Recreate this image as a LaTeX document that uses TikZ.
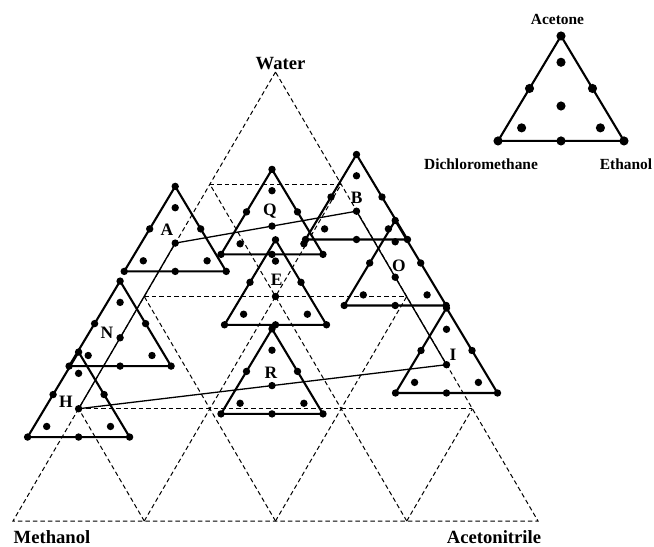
\documentclass[tikz,border=0pt]{standalone}
\usepackage{fontspec}
\setmainfont{Liberation Serif}
\usetikzlibrary{calc}
\tikzset{
  grid/.style={draw=black, line width=1bp, dash pattern=on 4.5bp off 3bp},
  tri/.style={draw=black, line width=2.1bp, line join=miter},
  conn/.style={draw=black, line width=1.3bp},
  lbl/.style={font=\fontsize{17.5}{18}\selectfont\bfseries, inner sep=0pt},
  biglbl/.style={font=\fontsize{18.7}{20}\selectfont\bfseries, inner sep=0pt, anchor=base},
  leglbl/.style={font=\fontsize{15.5}{17}\selectfont\bfseries, inner sep=0pt, anchor=base},
  innertri/.pic={
    \draw[tri] (0,-56.7) -- (-51,28.3) -- (51,28.3) -- cycle;
    \foreach \px/\py in {0/-56.7, -51/28.3, 51/28.3, -25.5/-14.2, 25.5/-14.2, 0/28.3, 0/0, 0/-35.4, -31.9/17.7, 31.9/17.7}
      \fill[black] (\px,\py) circle (3.7bp);
  }
}
\begin{document}
\begin{tikzpicture}[x=1bp, y=-1bp]
\useasboundingbox (0,0) rectangle (654,547);
% outer design triangle
\coordinate (W) at (275.5,72);
\coordinate (M) at (13,521);
\coordinate (C) at (538,521);
\draw[grid] (W) -- (M) -- (C) -- cycle;
\foreach \k in {1,2,3}{
  \draw[grid] ($(W)!\k/4!(M)$) -- ($(W)!\k/4!(C)$);
  \draw[grid] ($(M)!\k/4!(C)$) -- ($(W)!\k/4!(C)$);
  \draw[grid] ($(M)!\k/4!(C)$) -- ($(W)!1-\k/4!(M)$);
}
% design points
\coordinate (A) at (175.2,243.1);
\coordinate (B) at (356.5,211.2);
\coordinate (Q) at (272,226.1);
\coordinate (E) at (275.5,296.5);
\coordinate (R) at (272,385.6);
\coordinate (O) at (395.2,277.2);
\coordinate (I) at (446.5,364.7);
\coordinate (H) at (78.6,408.75);
\coordinate (N) at (120.1,337.8);
% connectors
\draw[conn] (A) -- (Q) -- (B) -- (O) -- (I) -- (R) -- (H) -- (N) -- (A);
% inner triangles
\foreach \n in {A,B,Q,E,R,O,I,H,N}{ \pic at (\n) {innertri}; }
% labels
\node[lbl] (lA) at (167,230) {A};
\node[lbl] (lB) at (356.7,198) {B};
\node[lbl] (lQ) at (270,211) {Q};
\node[lbl] (lE) at (276.7,280) {E};
\node[lbl] (lR) at (271,373) {R};
\node[lbl] (lO) at (399,266) {O};
\node[lbl] (lI) at (453,355) {I};
\node[lbl] (lH) at (66,402) {H};
\node[lbl] (lN) at (107,333) {N};
% vertex labels
\node[biglbl] (tW) at (280.5,70) {Water};
\node[biglbl] (tM) at (52,543.5) {Methanol};
\node[biglbl] (tC) at (494,543.5) {Acetonitrile};
% legend
\coordinate (L) at (561,106);
\pic[scale=1.235] at (L) {innertri};
\node[leglbl] (tAc) at (557.5,24.5) {Acetone};
\node[leglbl] (tDi) at (481,170) {Dichloromethane};
\node[leglbl] (tEt) at (626,170) {Ethanol};
\end{tikzpicture}
\end{document}
